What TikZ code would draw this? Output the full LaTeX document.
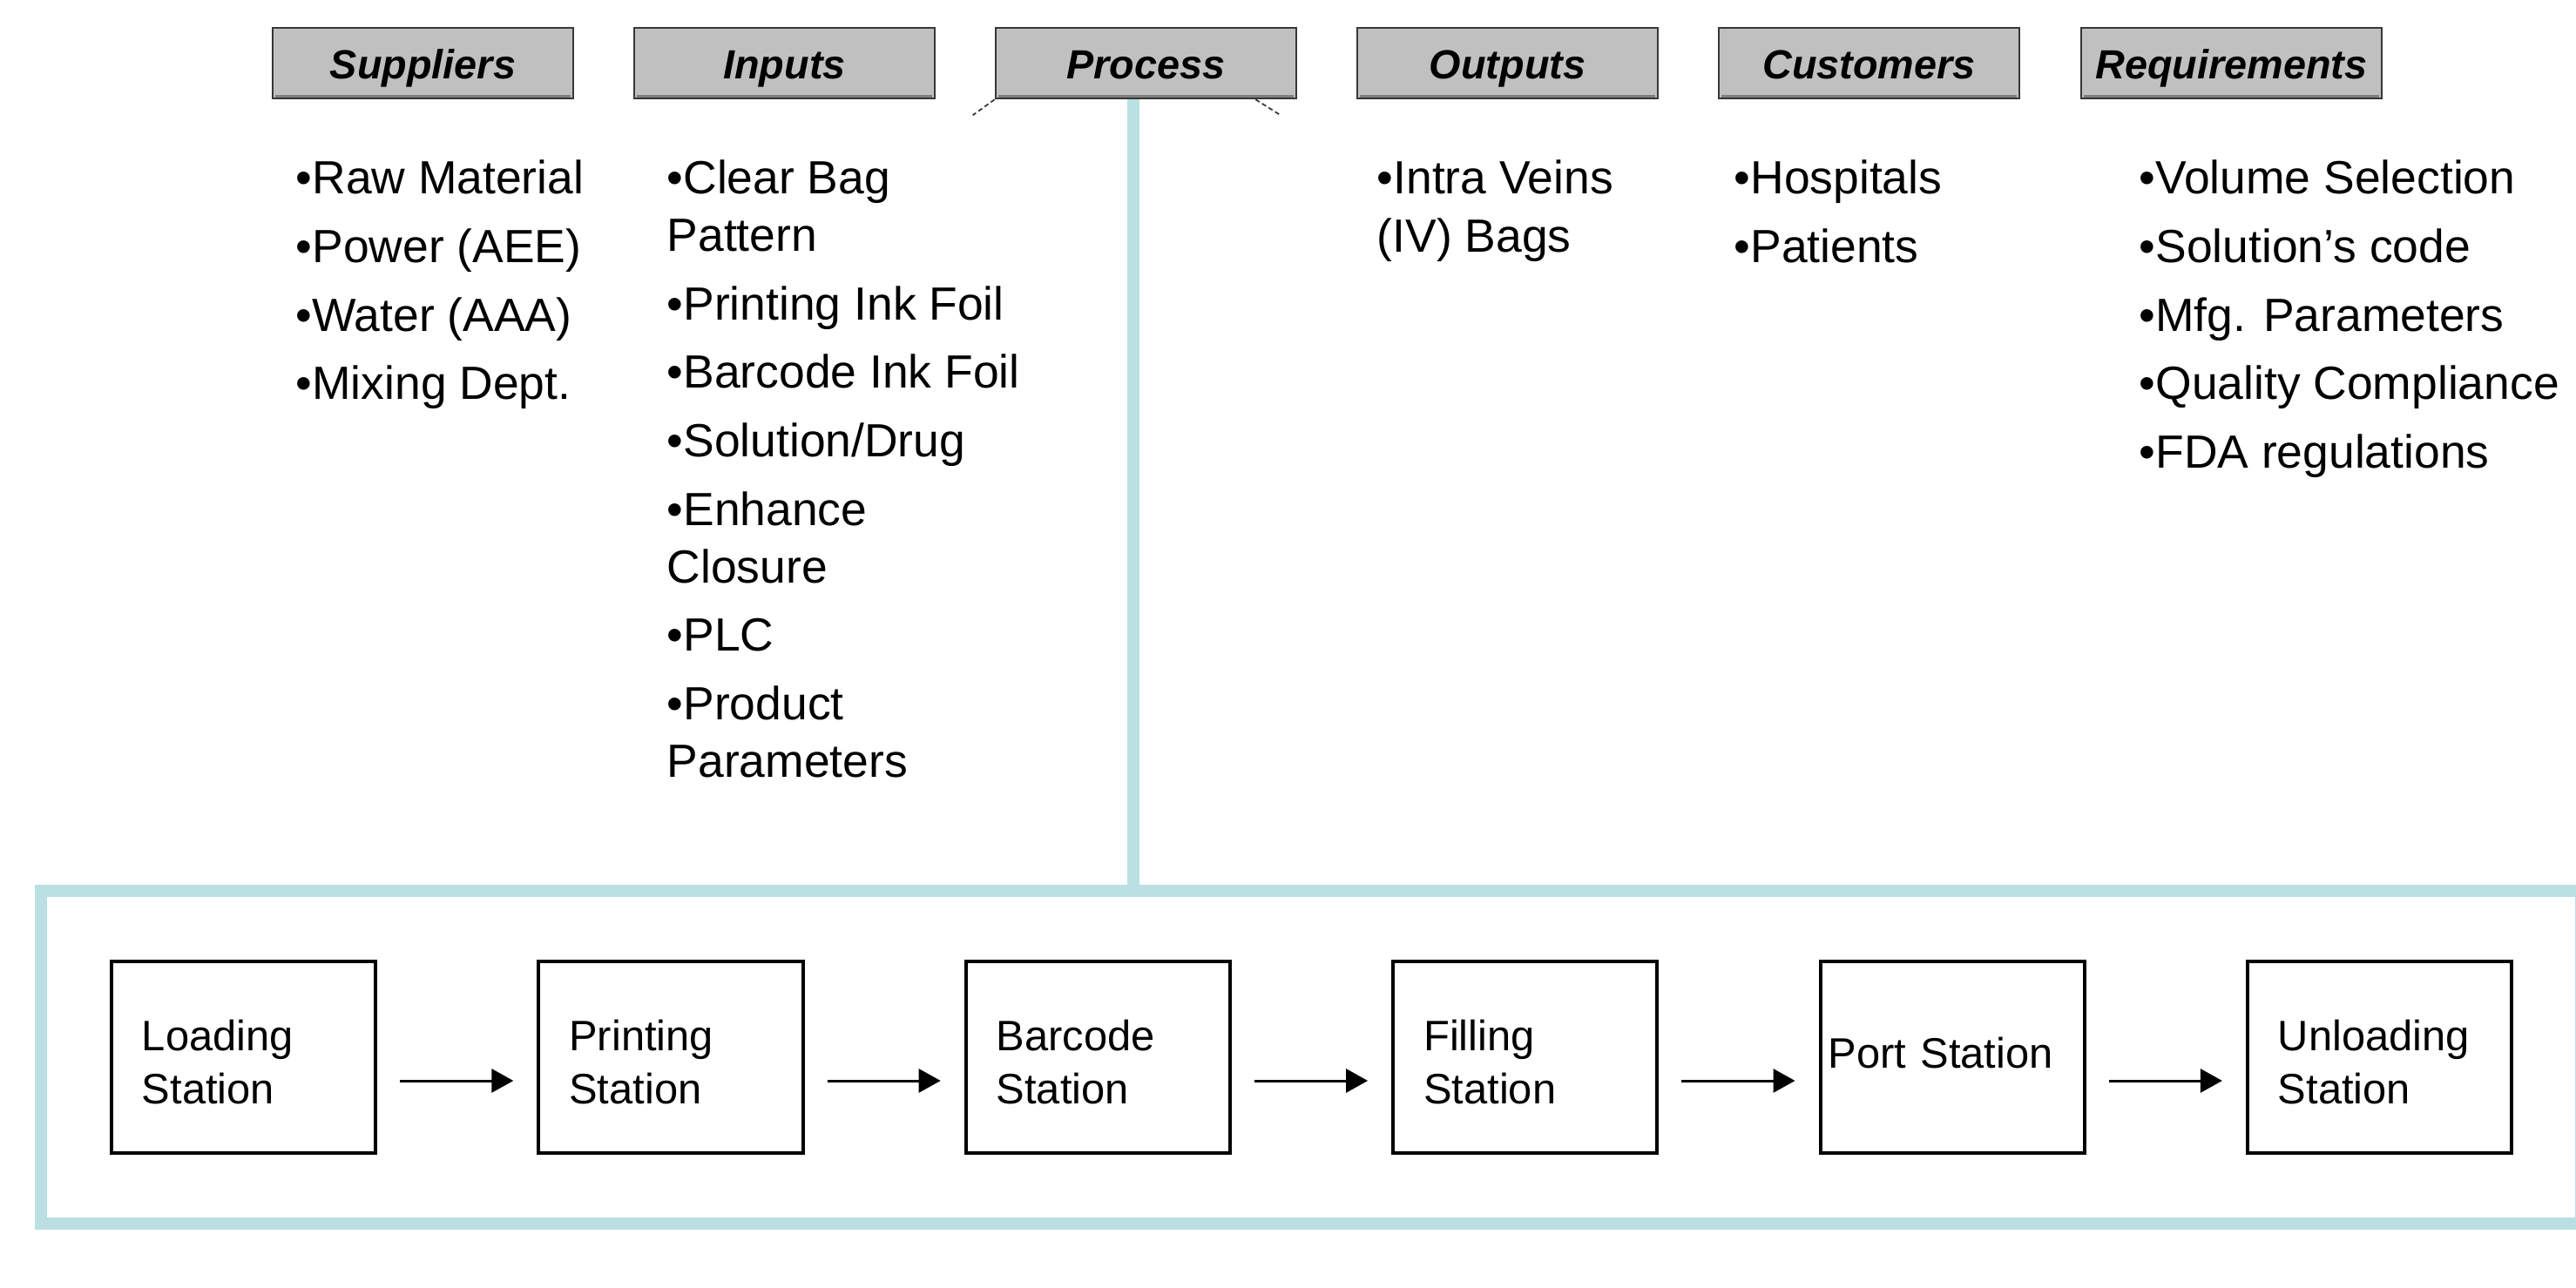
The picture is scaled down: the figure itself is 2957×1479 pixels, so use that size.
\documentclass[tikz,border=0pt]{standalone}
\usepackage{fontspec}
\setmainfont{Liberation Sans}
\usetikzlibrary{calc,arrows.meta}
\definecolor{tealframe}{RGB}{186,224,227}
\definecolor{hdrfill}{RGB}{192,192,192}
\definecolor{hdrline}{RGB}{55,55,55}
\definecolor{hdrshade}{RGB}{128,128,128}
\newcommand{\toplift}{\rule{0pt}{13pt}}
\begin{document}
\begin{tikzpicture}[x=0.01cm,y=-0.01cm,
  hdr/.style={draw=hdrline, fill=hdrfill, line width=0.71pt,
    minimum width=98.16pt, minimum height=23.05pt, inner sep=0pt,
    text height=12.8pt, text depth=2.8pt,
    font=\fontsize{13.3}{16}\selectfont\bfseries\itshape},
  bullets/.style={align=left, inner sep=0pt, anchor=base west,
    font=\fontsize{15.2}{18.78}\selectfont},
  frameline/.style={draw=tealframe, line width=3.98pt},
  stn/.style={draw=black, line width=1.14pt, minimum width=86.21pt,
    minimum height=62.6pt, text width=66.3pt, inner xsep=9.96pt,
    inner ysep=0pt, align=left, font=\fontsize{13.9}{17.36}\selectfont},
  arr/.style={draw=black, line width=0.85pt, -{Triangle[length=7.11pt,width=7.68pt]}},
  procdash/.style={draw=hdrline, line width=0.5pt, dash pattern=on 1.5pt off 1pt}
]
\useasboundingbox (0,0) rectangle (2957,1479);
\clip (0,0) rectangle (2957,1479);

% header boxes
\node[hdr] (sup)  at (485.5,72.5)  {Suppliers};
\node[hdr] (inp)  at (900.5,72.5)  {Inputs};
\node[hdr] (proc) at (1315.5,72.5) {Process};
\node[hdr] (outp) at (1730.5,72.5) {Outputs};
\node[hdr] (cus)  at (2145.5,72.5) {Customers};
\node[hdr] (req)  at (2561.5,72.5) {Requirements};
\foreach \n in {sup,inp,proc,outp,cus,req}
  \draw[hdrshade, line width=1pt] ($(\n.south west)+(4,-4)$) -- ($(\n.south east)+(-4,-4)$);

% small dashed marks under Process
\draw[procdash] (proc.south west) -- +(-25,18);
\draw[procdash] ($(proc.south east)+(-48,0)$) -- +(27,17);

% bullet lists (anchored at the baseline of their last line)
\node[bullets] (supl) at (339,458.8) {•Raw Material\\[3.58pt]•Power (AEE)\\[3.58pt]•Water (AAA)\\[3.58pt]•Mixing Dept.};
\node[bullets] (inpl) at (765,892.6) {•Clear Bag\\Pattern\\[3.58pt]•Printing Ink Foil\\[3.58pt]•Barcode Ink Foil\\[3.58pt]•Solution/Drug\\[3.58pt]•Enhance\\Closure\\[3.58pt]•PLC\\[3.58pt]•Product\\Parameters};
\node[bullets] (outl) at (1580,289) {•Intra Veins\\(IV) Bags};
\node[bullets] (cusl) at (1990,301.6) {•Hospitals\\[3.58pt]•Patients};
\node[bullets] (reql) at (2455,537.4) {•Volume Selection\\[3.58pt]•Solution’s code\\[3.58pt]•Mfg. Parameters\\[3.58pt]•Quality Compliance\\[3.58pt]•FDA regulations};

% process frame
\node[frameline, minimum width=829.1pt, minimum height=108.7pt, inner sep=0pt] (frame) at (1505,1214) {};
\coordinate (jx) at (1301,0);
\draw[draw=tealframe, line width=3.98pt] (proc.south -| jx) -- (frame.north -| jx);

% stations
\node[stn] (s1) at (279.5,1214)  {\toplift Loading\\Station};
\node[stn] (s2) at (769.9,1214)  {\toplift Printing\\Station};
\node[stn] (s3) at (1260.3,1214) {\toplift Barcode\\Station};
\node[stn] (s4) at (1750.7,1214) {\toplift Filling\\Station};
\node[stn, text width=81.09pt, inner xsep=2.56pt, text depth=2.8pt] (s5) at (2241.1,1214) {Port Station};
\node[stn] (s6) at (2731.5,1214) {\toplift Unloading\\Station};

\foreach \a/\b in {s1/s2,s2/s3,s3/s4,s4/s5,s5/s6}
  \draw[arr] ($(\a.east)+(26,27)$) -- ($(\b.west)+(-27,27)$);
\end{tikzpicture}
\end{document}
